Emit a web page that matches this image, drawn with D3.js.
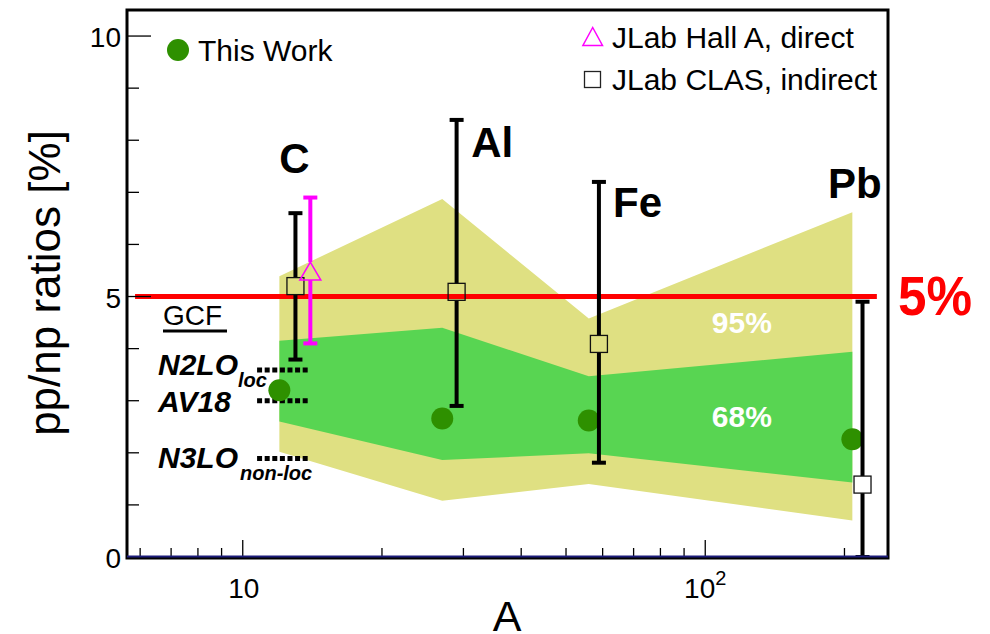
<!DOCTYPE html>
<html>
<head>
<meta charset="utf-8">
<script src="https://cdn.jsdelivr.net/npm/d3@7"></script>
<style>
  html, body { margin: 0; padding: 0; background: #fff; }
  svg { display: block; font-family: "Liberation Sans", Arial, sans-serif; }
</style>
</head>
<body>
<svg id="chart" width="990" height="634"></svg>
<script>
// ---- data ----
const elements = ["C", "Al", "Fe", "Pb"];
const massNumbers = [12, 27, 56, 208];
const thisWork = [3.20, 2.66, 2.62, 2.26];

// confidence bands (per nucleus)
const band95Upper = [5.39, 6.87, 4.58, 6.62];
const band95Lower = [2.02, 1.08, 1.40, 0.70];
const band68Upper = [4.15, 4.40, 3.47, 3.94];
const band68Lower = [2.60, 1.86, 1.99, 1.43];

// JLab CLAS (indirect), drawn slightly offset in A
const clasA = [13.0, 29.0, 58.9, 218.8];
const clasValue = [5.20, 5.09, 4.09, 1.39];
const clasHigh = [6.60, 8.39, 7.20, 4.90];
const clasLow = [3.79, 2.90, 1.81, 0.0];

// JLab Hall A (direct), carbon only
const hallAA = [14.0];
const hallAValue = [5.48];
const hallAHigh = [6.90];
const hallALow = [4.10];

// GCF model predictions for carbon
const gcfNames = ["N2LO", "AV18", "N3LO"];
const gcfSubs = ["loc", "", "non-loc"];
const gcfValues = [3.59, 3.00, 1.89];
const gcfRange = [10.74, 13.98];

// 5% reference line
const refValue = 5;
const refRange = [5.85, 235];

const yTicksMajor = [0, 5, 10];
const yTicksMinor = [1, 2, 3, 4, 6, 7, 8, 9];
const xTicksMajor = [10, 100];
const xTicksMinor = [6, 7, 8, 9, 20, 30, 40, 50, 60, 70, 80, 90, 200];

// ---- layout ----
const L = 127, R = 888, T = 10, B = 557;
const svg = d3.select("#chart");
const x = d3.scaleLog().domain([5.62, 248.4]).range([L, R]);
const y = d3.scaleLinear().domain([0, 10.5]).range([B, T]);

const colYellow = "#dfe082";
const colGreen = "#58d552";
const colDot = "#2e9000";
const colMagenta = "#ff00ff";

// ---- bands ----
function bandPath(upper, lower) {
  const pts = massNumbers.map((a, i) => [x(a), y(upper[i])])
    .concat(massNumbers.map((a, i) => [x(a), y(lower[i])]).reverse());
  return d3.line()(pts) + "Z";
}
svg.append("path").attr("d", bandPath(band95Upper, band95Lower)).attr("fill", colYellow);
svg.append("path").attr("d", bandPath(band68Upper, band68Lower)).attr("fill", colGreen);

// band labels
svg.append("text").attr("x", x(120)).attr("y", y(4.3)).attr("text-anchor", "middle")
  .attr("font-size", 30).attr("font-weight", "bold").attr("fill", "#fff").text("95%");
svg.append("text").attr("x", x(120)).attr("y", y(2.5)).attr("text-anchor", "middle")
  .attr("font-size", 30).attr("font-weight", "bold").attr("fill", "#fff").text("68%");

// ---- 5% line ----
svg.append("line")
  .attr("x1", x(refRange[0])).attr("x2", x(refRange[1]))
  .attr("y1", y(refValue)).attr("y2", y(refValue))
  .attr("stroke", "#ff0000").attr("stroke-width", 5);
svg.append("text").attr("x", 898).attr("y", 315)
  .attr("font-size", 55).attr("font-weight", "bold").attr("fill", "#ff0000")
  .attr("textLength", 74).attr("lengthAdjust", "spacingAndGlyphs")
  .text(refValue + "%");

// ---- GCF model lines ----
gcfValues.forEach(v => {
  svg.append("line")
    .attr("x1", x(gcfRange[0])).attr("x2", x(gcfRange[1]))
    .attr("y1", y(v)).attr("y2", y(v))
    .attr("stroke", "#000").attr("stroke-width", 5)
    .attr("stroke-dasharray", "5,2.6");
});

// ---- This Work points ----
svg.selectAll("circle.tw").data(massNumbers).enter().append("circle")
  .attr("class", "tw")
  .attr("cx", d => x(d)).attr("cy", (d, i) => y(thisWork[i]))
  .attr("r", 11).attr("fill", colDot);

// ---- error bars with hollow markers ----
function errorBar(ax, val, hi, lo, color, halfTop, halfBot) {
  const cx = x(ax), cy = y(val);
  const g = svg.append("g");
  g.append("line").attr("x1", cx).attr("x2", cx).attr("y1", y(hi)).attr("y2", cy - halfTop)
    .attr("stroke", color).attr("stroke-width", 4);
  g.append("line").attr("x1", cx).attr("x2", cx).attr("y1", cy + halfBot).attr("y2", y(lo))
    .attr("stroke", color).attr("stroke-width", 4);
  [hi, lo].forEach(v => {
    g.append("line").attr("x1", cx - 7).attr("x2", cx + 7).attr("y1", y(v)).attr("y2", y(v))
      .attr("stroke", color).attr("stroke-width", 4);
  });
}

clasA.forEach((a, i) => {
  errorBar(a, clasValue[i], clasHigh[i], clasLow[i], "#000", 8.5, 8.5);
  svg.append("rect")
    .attr("x", x(a) - 8.5).attr("y", y(clasValue[i]) - 8.5)
    .attr("width", 17).attr("height", 17)
    .attr("fill", "none").attr("stroke", "#111").attr("stroke-width", 1.3);
});

hallAA.forEach((a, i) => {
  errorBar(a, hallAValue[i], hallAHigh[i], hallALow[i], colMagenta, 9.5, 8.5);
  const cx = x(a), cy = y(hallAValue[i]);
  svg.append("path")
    .attr("d", `M${cx},${cy - 9.5}L${cx + 10.5},${cy + 8.5}L${cx - 10.5},${cy + 8.5}Z`)
    .attr("fill", "none").attr("stroke", colMagenta).attr("stroke-width", 1.5);
});

// ---- element labels ----
const labelPos = [[12.0, 7.37], [31.2, 7.68], [63.2, 6.53], [184.2, 6.89]];
elements.forEach((e, i) => {
  svg.append("text").attr("x", x(labelPos[i][0])).attr("y", y(labelPos[i][1]))
    .attr("font-size", 42).attr("font-weight", "bold").attr("fill", "#000").text(e);
});

// ---- GCF labels ----
svg.append("text").attr("x", 163).attr("y", 325).attr("font-size", 28).text("GCF");
svg.append("line").attr("x1", 163).attr("x2", 227).attr("y1", 331).attr("y2", 331)
  .attr("stroke", "#000").attr("stroke-width", 3);
const gcfBaselines = [375, 412, 468];
const subOffsets = [[238, 387], null, [240, 480]];
gcfNames.forEach((n, i) => {
  svg.append("text").attr("x", 158).attr("y", gcfBaselines[i])
    .attr("font-size", 30).attr("font-weight", "bold").attr("font-style", "italic").text(n);
  if (gcfSubs[i]) {
    svg.append("text").attr("x", subOffsets[i][0]).attr("y", subOffsets[i][1])
      .attr("font-size", 20).attr("font-weight", "bold").attr("font-style", "italic").text(gcfSubs[i]);
  }
});

// ---- axes ----
const axisG = svg.append("g");
yTicksMajor.forEach(v => {
  axisG.append("line").attr("x1", L).attr("x2", L + 24).attr("y1", y(v)).attr("y2", y(v))
    .attr("stroke", "#000").attr("stroke-width", 1.3);
  axisG.append("text").attr("x", 121).attr("y", y(v) + 11).attr("text-anchor", "end")
    .attr("font-size", 28).text(v);
});
yTicksMinor.forEach(v => {
  axisG.append("line").attr("x1", L).attr("x2", L + 12).attr("y1", y(v)).attr("y2", y(v))
    .attr("stroke", "#000").attr("stroke-width", 1.3);
});
xTicksMajor.forEach(v => {
  axisG.append("line").attr("x1", x(v)).attr("x2", x(v)).attr("y1", B).attr("y2", B - 17)
    .attr("stroke", "#000").attr("stroke-width", 1.3);
});
xTicksMinor.forEach(v => {
  axisG.append("line").attr("x1", x(v)).attr("x2", x(v)).attr("y1", B).attr("y2", B - 9)
    .attr("stroke", "#000").attr("stroke-width", 1.3);
});
axisG.append("text").attr("x", x(10) + 1).attr("y", 598).attr("text-anchor", "middle")
  .attr("font-size", 28).text("10");
const t100 = axisG.append("text").attr("x", x(100)).attr("y", 598).attr("text-anchor", "middle")
  .attr("font-size", 28);
t100.append("tspan").text("10");
t100.append("tspan").attr("font-size", 20).attr("dy", -13).text("2");

// frame
svg.append("rect").attr("x", L).attr("y", T).attr("width", R - L).attr("height", B - T + 1)
  .attr("fill", "none").attr("stroke", "#000").attr("stroke-width", 3);
svg.append("line").attr("x1", L).attr("x2", R).attr("y1", B - 0.5).attr("y2", B - 0.5)
  .attr("stroke", "#1c1c7a").attr("stroke-width", 2);

// axis titles
svg.append("text").attr("transform", "translate(60,283) rotate(-90)")
  .attr("text-anchor", "middle").attr("font-size", 44).text("pp/np ratios [%]");
svg.append("text").attr("x", 507).attr("y", 631).attr("text-anchor", "middle")
  .attr("font-size", 43).text("A");

// ---- legend ----
svg.append("circle").attr("cx", 178).attr("cy", 50).attr("r", 11).attr("fill", colDot);
svg.append("text").attr("x", 198).attr("y", 61).attr("font-size", 30).text("This Work");
svg.append("path")
  .attr("d", "M592.7,27.5L602.5,45.5L582.9,45.5Z")
  .attr("fill", "none").attr("stroke", colMagenta).attr("stroke-width", 1.5);
svg.append("text").attr("x", 612).attr("y", 47.5).attr("font-size", 30).text("JLab Hall A, direct");
svg.append("rect").attr("x", 584.5).attr("y", 71.5).attr("width", 16).attr("height", 16)
  .attr("fill", "none").attr("stroke", "#222").attr("stroke-width", 1.3);
svg.append("text").attr("x", 612).attr("y", 90).attr("font-size", 30).text("JLab CLAS, indirect");
</script>
</body>
</html>
